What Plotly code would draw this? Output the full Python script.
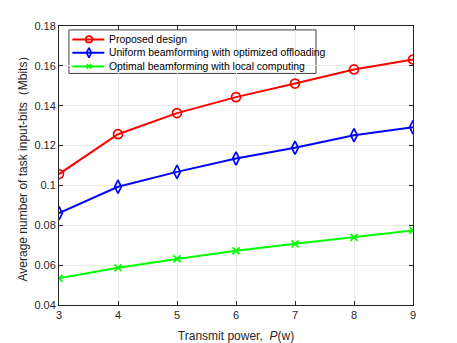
import plotly.graph_objects as go

power = [3, 4, 5, 6, 7, 8, 9]
proposed = [0.1057, 0.1257, 0.1363, 0.1443, 0.1511, 0.1582, 0.1632]
uniform = [0.0861, 0.0993, 0.1068, 0.1135, 0.1189, 0.1252, 0.1292]
local = [0.0534, 0.0587, 0.0631, 0.0672, 0.0707, 0.0739, 0.0774]

names = ["Proposed design",
         "Uniform beamforming with optimized offloading",
         "Optimal beamforming with local computing"]
colors = ["#ff0000", "#0000ff", "#00ff00"]
symbols = ["circle-open", "diamond-tall-open", "x-thin-open"]
sizes = [9, 9.5, 7]

font = "Liberation Sans, Arial, sans-serif"
ink = "#262626"

fig = go.Figure()
for ys, name, c, s, sz in zip([proposed, uniform, local], names, colors, symbols, sizes):
    fig.add_trace(go.Scatter(
        x=power, y=ys, name=name, mode="lines+markers",
        line=dict(color=c, width=2),
        marker=dict(symbol=s, size=sz, color=c, line=dict(width=1.7, color=c)),
        showlegend=False,
    ))

# hand-drawn legend (MATLAB style, compact rows) on an invisible overlay axis
leg_x0, leg_x1 = 0.028, 0.726
leg_top, leg_bot = 0.986, 0.830
row_y = [0.952, 0.904, 0.855]
line_x = [0.0376, 0.1280]
mark_x = 0.0847
text_x = 0.1345

fig.add_shape(type="rect", xref="x domain", yref="y domain", x0=leg_x0, x1=leg_x1,
              y0=leg_bot, y1=leg_top, fillcolor="white",
              line=dict(color="#404040", width=1), layer="below")
for ry, name, c, s, sz in zip(row_y, names, colors, symbols, sizes):
    fig.add_trace(go.Scatter(
        x=line_x, y=[ry, ry], mode="lines", line=dict(color=c, width=2),
        xaxis="x2", yaxis="y2", showlegend=False, hoverinfo="skip",
    ))
    fig.add_trace(go.Scatter(
        x=[mark_x], y=[ry], mode="markers",
        marker=dict(symbol=s, size=sz - 2.5, color=c, line=dict(width=1.7, color=c)),
        xaxis="x2", yaxis="y2", showlegend=False, hoverinfo="skip",
    ))
    fig.add_annotation(x=text_x, y=ry, xref="x2", yref="y2", text=name,
                       showarrow=False, xanchor="left", yanchor="middle",
                       font=dict(family=font, size=10.4, color="#000000"))

axis_common = dict(
    showline=True, linecolor=ink, linewidth=1, mirror="ticks",
    ticks="inside", ticklen=4, tickcolor=ink,
    showgrid=True, gridcolor="#ebebeb", gridwidth=1,
    zeroline=False, automargin=False,
    tickfont=dict(family=font, size=11, color=ink),
)

fig.update_xaxes(
    range=[3, 9], tickvals=power,
    title=dict(text="Transmit power,  <i>P</i>(w)", standoff=12,
               font=dict(family=font, size=12, color=ink)),
    **axis_common,
)
fig.update_yaxes(
    range=[0.04, 0.18], dtick=0.02, tickformat="~g",
    title=dict(text="Average number of task input-bits（Mbits）", standoff=4,
               font=dict(family=font, size=12, color=ink)),
    **axis_common,
)

fig.update_layout(
    width=449, height=335,
    margin=dict(l=51, r=44, t=18, b=38),
    paper_bgcolor="white", plot_bgcolor="white",
    font=dict(family=font, size=11, color=ink),
    xaxis2=dict(range=[0, 1], overlaying="x", anchor="y2", visible=False),
    yaxis2=dict(range=[0, 1], overlaying="y", anchor="x2", visible=False),
    showlegend=False,
)

fig.write_html("out.html")
